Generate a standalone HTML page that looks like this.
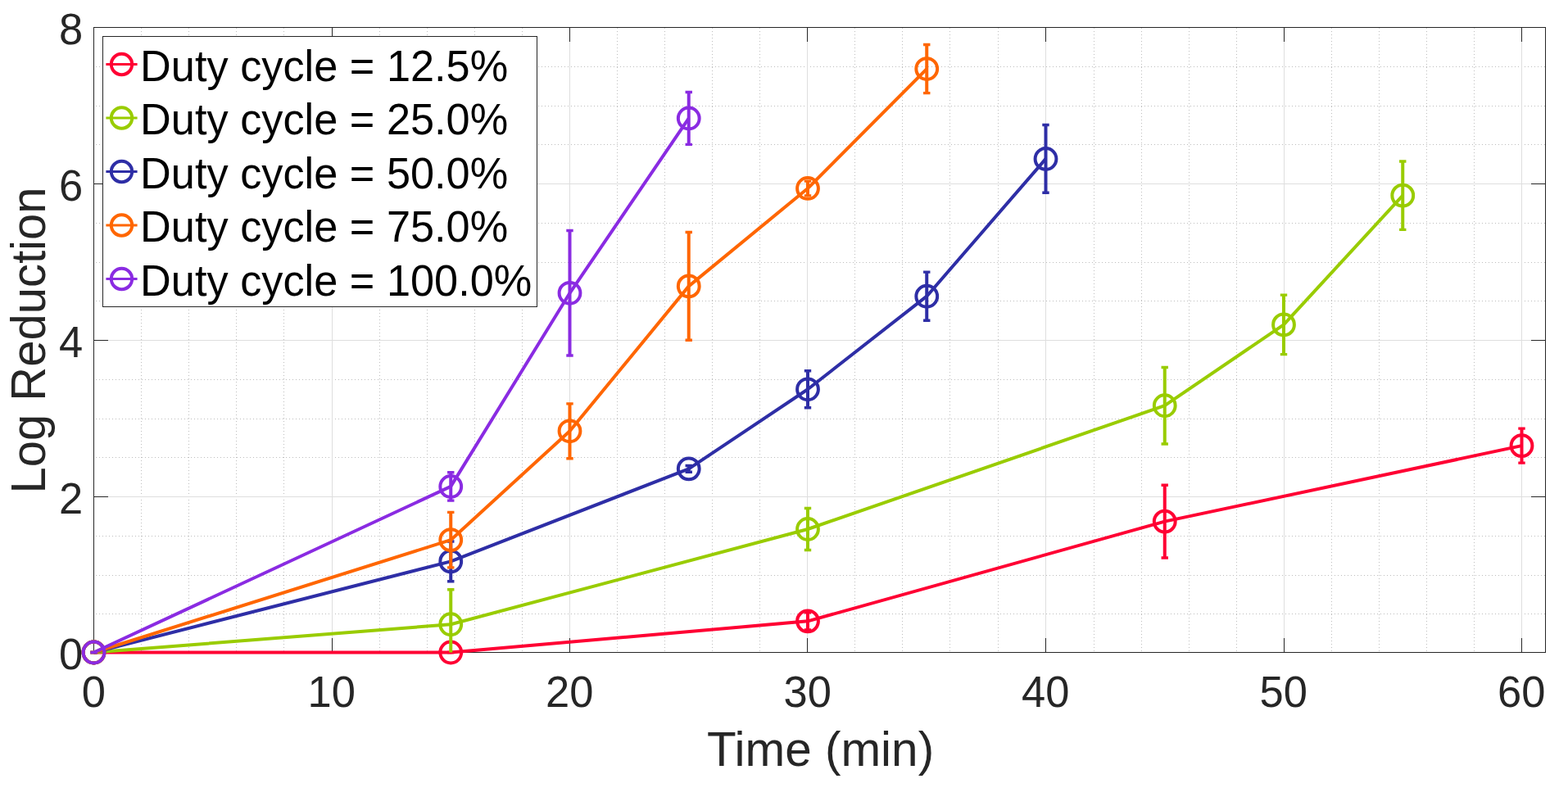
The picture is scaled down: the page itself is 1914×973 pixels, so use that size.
<!DOCTYPE html>
<html><head><meta charset="utf-8"><title>Log Reduction vs Time</title>
<style>html,body{margin:0;padding:0;background:#fff;overflow:hidden;width:1914px;height:973px;}svg{display:block;}</style>
</head><body>
<svg width="1914" height="973" viewBox="0 0 1914 973">
<rect x="0" y="0" width="1914" height="973" fill="#ffffff"/>
<defs><pattern id="vd" x="0" y="2" width="1" height="4" patternUnits="userSpaceOnUse"><rect x="0" y="0" width="1" height="1" fill="#bdbdbd"/></pattern><pattern id="hd" x="1" y="0" width="4" height="1" patternUnits="userSpaceOnUse"><rect x="0" y="0" width="1" height="1" fill="#bdbdbd"/></pattern></defs>
<g shape-rendering="crispEdges"><rect x="172" y="34" width="1" height="762" fill="url(#vd)"/><rect x="230" y="34" width="1" height="762" fill="url(#vd)"/><rect x="288" y="34" width="1" height="762" fill="url(#vd)"/><rect x="346" y="34" width="1" height="762" fill="url(#vd)"/><rect x="463" y="34" width="1" height="762" fill="url(#vd)"/><rect x="521" y="34" width="1" height="762" fill="url(#vd)"/><rect x="579" y="34" width="1" height="762" fill="url(#vd)"/><rect x="637" y="34" width="1" height="762" fill="url(#vd)"/><rect x="753" y="34" width="1" height="762" fill="url(#vd)"/><rect x="811" y="34" width="1" height="762" fill="url(#vd)"/><rect x="869" y="34" width="1" height="762" fill="url(#vd)"/><rect x="927" y="34" width="1" height="762" fill="url(#vd)"/><rect x="1043" y="34" width="1" height="762" fill="url(#vd)"/><rect x="1101" y="34" width="1" height="762" fill="url(#vd)"/><rect x="1159" y="34" width="1" height="762" fill="url(#vd)"/><rect x="1218" y="34" width="1" height="762" fill="url(#vd)"/><rect x="1335" y="34" width="1" height="762" fill="url(#vd)"/><rect x="1393" y="34" width="1" height="762" fill="url(#vd)"/><rect x="1451" y="34" width="1" height="762" fill="url(#vd)"/><rect x="1509" y="34" width="1" height="762" fill="url(#vd)"/><rect x="1625" y="34" width="1" height="762" fill="url(#vd)"/><rect x="1683" y="34" width="1" height="762" fill="url(#vd)"/><rect x="1741" y="34" width="1" height="762" fill="url(#vd)"/><rect x="1799" y="34" width="1" height="762" fill="url(#vd)"/><rect x="115" y="749" width="1771" height="1" fill="url(#hd)"/><rect x="115" y="702" width="1771" height="1" fill="url(#hd)"/><rect x="115" y="654" width="1771" height="1" fill="url(#hd)"/><rect x="115" y="558" width="1771" height="1" fill="url(#hd)"/><rect x="115" y="511" width="1771" height="1" fill="url(#hd)"/><rect x="115" y="463" width="1771" height="1" fill="url(#hd)"/><rect x="115" y="367" width="1771" height="1" fill="url(#hd)"/><rect x="115" y="320" width="1771" height="1" fill="url(#hd)"/><rect x="115" y="272" width="1771" height="1" fill="url(#hd)"/><rect x="115" y="176" width="1771" height="1" fill="url(#hd)"/><rect x="115" y="129" width="1771" height="1" fill="url(#hd)"/><rect x="115" y="81" width="1771" height="1" fill="url(#hd)"/></g>
<path d="M405.5 33.5V796.5M695.5 33.5V796.5M985.5 33.5V796.5M1276.5 33.5V796.5M1567.5 33.5V796.5M1857.5 33.5V796.5M114.5 606.5H1886.5M114.5 415.5H1886.5M114.5 224.5H1886.5" stroke="#dedede" stroke-width="1" fill="none" shape-rendering="crispEdges"/>
<path d="M114.5 33.5H1886.5V796.5H114.5ZM114.5 796.5v-17.7M114.5 33.5v17.7M405.5 796.5v-17.7M405.5 33.5v17.7M695.5 796.5v-17.7M695.5 33.5v17.7M985.5 796.5v-17.7M985.5 33.5v17.7M1276.5 796.5v-17.7M1276.5 33.5v17.7M1567.5 796.5v-17.7M1567.5 33.5v17.7M1857.5 796.5v-17.7M1857.5 33.5v17.7M114.5 796.5h17.7M1886.5 796.5h-17.7M114.5 606.5h17.7M1886.5 606.5h-17.7M114.5 415.5h17.7M1886.5 415.5h-17.7M114.5 224.5h17.7M1886.5 224.5h-17.7M114.5 33.5h17.7M1886.5 33.5h-17.7" stroke="#262626" stroke-width="1" fill="none" shape-rendering="crispEdges"/>
<g fill="none" stroke-width="4.0">
<g stroke="#ff0033">
<path d="M114.50 796.50 L550.25 796.50 L986.00 758.35 L1421.75 636.65 L1857.50 544.14" stroke-linejoin="round"/>
<path d="M114.50 796.50V796.50M550.25 796.50V796.50M986.00 747.86V768.84M1421.75 592.30V681.00M1857.50 523.16V565.12"/>
<path d="M110.30 796.50h8.4M110.30 796.50h8.4M546.05 796.50h8.4M546.05 796.50h8.4M981.80 747.86h8.4M981.80 768.84h8.4M1417.55 592.30h8.4M1417.55 681.00h8.4M1853.30 523.16h8.4M1853.30 565.12h8.4" stroke-width="3.4"/>
<circle cx="114.50" cy="796.50" r="12.9"/>
<circle cx="550.25" cy="796.50" r="12.9"/>
<circle cx="986.00" cy="758.35" r="12.9"/>
<circle cx="1421.75" cy="636.65" r="12.9"/>
<circle cx="1857.50" cy="544.14" r="12.9"/>
</g>
<g stroke="#99cc00">
<path d="M114.50 796.50 L550.25 762.26 L986.00 646.00 L1421.75 495.21 L1567.00 396.40 L1712.25 238.65" stroke-linejoin="round"/>
<path d="M114.50 796.50V796.50M550.25 719.82V796.50M986.00 620.44V671.56M1421.75 448.48V541.94M1567.00 360.16V432.64M1712.25 196.97V280.33"/>
<path d="M110.30 796.50h8.4M110.30 796.50h8.4M546.05 719.82h8.4M981.80 620.44h8.4M981.80 671.56h8.4M1417.55 448.48h8.4M1417.55 541.94h8.4M1562.80 360.16h8.4M1562.80 432.64h8.4M1708.05 196.97h8.4M1708.05 280.33h8.4" stroke-width="3.4"/>
<circle cx="114.50" cy="796.50" r="12.9"/>
<circle cx="550.25" cy="762.26" r="12.9"/>
<circle cx="986.00" cy="646.00" r="12.9"/>
<circle cx="1421.75" cy="495.21" r="12.9"/>
<circle cx="1567.00" cy="396.40" r="12.9"/>
<circle cx="1712.25" cy="238.65" r="12.9"/>
</g>
<g stroke="#2e2ea6">
<path d="M114.50 796.50 L550.25 685.39 L840.75 572.37 L986.00 475.28 L1131.25 361.69 L1276.50 193.92" stroke-linejoin="round"/>
<path d="M114.50 796.50V796.50M550.25 660.97V709.80M840.75 568.55V576.18M986.00 452.77V497.79M1131.25 332.12V391.25M1276.50 152.53V235.31"/>
<path d="M110.30 796.50h8.4M110.30 796.50h8.4M546.05 660.97h8.4M546.05 709.80h8.4M836.55 568.55h8.4M836.55 576.18h8.4M981.80 452.77h8.4M981.80 497.79h8.4M1127.05 332.12h8.4M1127.05 391.25h8.4M1272.30 152.53h8.4M1272.30 235.31h8.4" stroke-width="3.4"/>
<circle cx="114.50" cy="796.50" r="12.9"/>
<circle cx="550.25" cy="685.39" r="12.9"/>
<circle cx="840.75" cy="572.37" r="12.9"/>
<circle cx="986.00" cy="475.28" r="12.9"/>
<circle cx="1131.25" cy="361.69" r="12.9"/>
<circle cx="1276.50" cy="193.92" r="12.9"/>
</g>
<g stroke="#ff6600">
<path d="M114.50 796.50 L550.25 659.16 L695.50 526.30 L840.75 349.38 L986.00 229.97 L1131.25 84.05" stroke-linejoin="round"/>
<path d="M114.50 796.50V796.50M550.25 625.40V692.92M695.50 492.92V559.68M840.75 283.57V415.19M986.00 221.10V238.84M1131.25 54.48V113.62"/>
<path d="M110.30 796.50h8.4M110.30 796.50h8.4M546.05 625.40h8.4M546.05 692.92h8.4M691.30 492.92h8.4M691.30 559.68h8.4M836.55 283.57h8.4M836.55 415.19h8.4M981.80 221.10h8.4M981.80 238.84h8.4M1127.05 54.48h8.4M1127.05 113.62h8.4" stroke-width="3.4"/>
<circle cx="114.50" cy="796.50" r="12.9"/>
<circle cx="550.25" cy="659.16" r="12.9"/>
<circle cx="695.50" cy="526.30" r="12.9"/>
<circle cx="840.75" cy="349.38" r="12.9"/>
<circle cx="986.00" cy="229.97" r="12.9"/>
<circle cx="1131.25" cy="84.05" r="12.9"/>
</g>
<g stroke="#8a2be2">
<path d="M114.50 796.50 L550.25 593.92 L695.50 357.78 L840.75 144.42" stroke-linejoin="round"/>
<path d="M114.50 796.50V796.50M550.25 576.76V611.09M695.50 281.48V434.07M840.75 112.47V176.37"/>
<path d="M110.30 796.50h8.4M110.30 796.50h8.4M546.05 576.76h8.4M546.05 611.09h8.4M691.30 281.48h8.4M691.30 434.07h8.4M836.55 112.47h8.4M836.55 176.37h8.4" stroke-width="3.4"/>
<circle cx="114.50" cy="796.50" r="12.9"/>
<circle cx="550.25" cy="593.92" r="12.9"/>
<circle cx="695.50" cy="357.78" r="12.9"/>
<circle cx="840.75" cy="144.42" r="12.9"/>
</g>
</g>
<rect x="125.5" y="44.5" width="530.0" height="330.0" fill="#ffffff" stroke="#262626" stroke-width="1" shape-rendering="crispEdges"/>
<g stroke="#ff0033" stroke-width="4.0" fill="none"><path d="M129.4 78.50H167.6" stroke-width="3"/><circle cx="148.5" cy="78.50" r="12.7"/></g>
<text transform="translate(171.1,98.80) scale(1,1.015)" font-family="Liberation Sans, Arial, sans-serif" font-size="52.3" fill="#000000">Duty cycle = 12.5%</text>
<g stroke="#99cc00" stroke-width="4.0" fill="none"><path d="M129.4 144.00H167.6" stroke-width="3"/><circle cx="148.5" cy="144.00" r="12.7"/></g>
<text transform="translate(171.1,164.30) scale(1,1.015)" font-family="Liberation Sans, Arial, sans-serif" font-size="52.3" fill="#000000">Duty cycle = 25.0%</text>
<g stroke="#2e2ea6" stroke-width="4.0" fill="none"><path d="M129.4 209.50H167.6" stroke-width="3"/><circle cx="148.5" cy="209.50" r="12.7"/></g>
<text transform="translate(171.1,229.80) scale(1,1.015)" font-family="Liberation Sans, Arial, sans-serif" font-size="52.3" fill="#000000">Duty cycle = 50.0%</text>
<g stroke="#ff6600" stroke-width="4.0" fill="none"><path d="M129.4 275.00H167.6" stroke-width="3"/><circle cx="148.5" cy="275.00" r="12.7"/></g>
<text transform="translate(171.1,295.30) scale(1,1.015)" font-family="Liberation Sans, Arial, sans-serif" font-size="52.3" fill="#000000">Duty cycle = 75.0%</text>
<g stroke="#8a2be2" stroke-width="4.0" fill="none"><path d="M129.4 340.50H167.6" stroke-width="3"/><circle cx="148.5" cy="340.50" r="12.7"/></g>
<text transform="translate(171.1,360.80) scale(1,1.015)" font-family="Liberation Sans, Arial, sans-serif" font-size="52.3" fill="#000000">Duty cycle = 100.0%</text>
<text transform="translate(114.30,863.2) scale(1,1.03)" text-anchor="middle" font-family="Liberation Sans, Arial, sans-serif" font-size="52.5" fill="#262626">0</text>
<text transform="translate(404.80,863.2) scale(1,1.03)" text-anchor="middle" font-family="Liberation Sans, Arial, sans-serif" font-size="52.5" fill="#262626">10</text>
<text transform="translate(695.30,863.2) scale(1,1.03)" text-anchor="middle" font-family="Liberation Sans, Arial, sans-serif" font-size="52.5" fill="#262626">20</text>
<text transform="translate(985.80,863.2) scale(1,1.03)" text-anchor="middle" font-family="Liberation Sans, Arial, sans-serif" font-size="52.5" fill="#262626">30</text>
<text transform="translate(1276.30,863.2) scale(1,1.03)" text-anchor="middle" font-family="Liberation Sans, Arial, sans-serif" font-size="52.5" fill="#262626">40</text>
<text transform="translate(1566.80,863.2) scale(1,1.03)" text-anchor="middle" font-family="Liberation Sans, Arial, sans-serif" font-size="52.5" fill="#262626">50</text>
<text transform="translate(1857.30,863.2) scale(1,1.03)" text-anchor="middle" font-family="Liberation Sans, Arial, sans-serif" font-size="52.5" fill="#262626">60</text>
<text transform="translate(101.2,817.30) scale(1,1.03)" text-anchor="end" font-family="Liberation Sans, Arial, sans-serif" font-size="52.5" fill="#262626">0</text>
<text transform="translate(101.2,627.30) scale(1,1.03)" text-anchor="end" font-family="Liberation Sans, Arial, sans-serif" font-size="52.5" fill="#262626">2</text>
<text transform="translate(101.2,436.30) scale(1,1.03)" text-anchor="end" font-family="Liberation Sans, Arial, sans-serif" font-size="52.5" fill="#262626">4</text>
<text transform="translate(101.2,245.30) scale(1,1.03)" text-anchor="end" font-family="Liberation Sans, Arial, sans-serif" font-size="52.5" fill="#262626">6</text>
<text transform="translate(101.2,54.30) scale(1,1.03)" text-anchor="end" font-family="Liberation Sans, Arial, sans-serif" font-size="52.5" fill="#262626">8</text>
<text transform="translate(1001.5,934.6) scale(1,1.025)" text-anchor="middle" font-family="Liberation Sans, Arial, sans-serif" font-size="58.5" fill="#262626">Time (min)</text>
<text transform="translate(55,415.5) rotate(-90) scale(1,1.025)" x="0" y="0" text-anchor="middle" font-family="Liberation Sans, Arial, sans-serif" font-size="58" fill="#262626">Log Reduction</text>
</svg>
</body></html>
